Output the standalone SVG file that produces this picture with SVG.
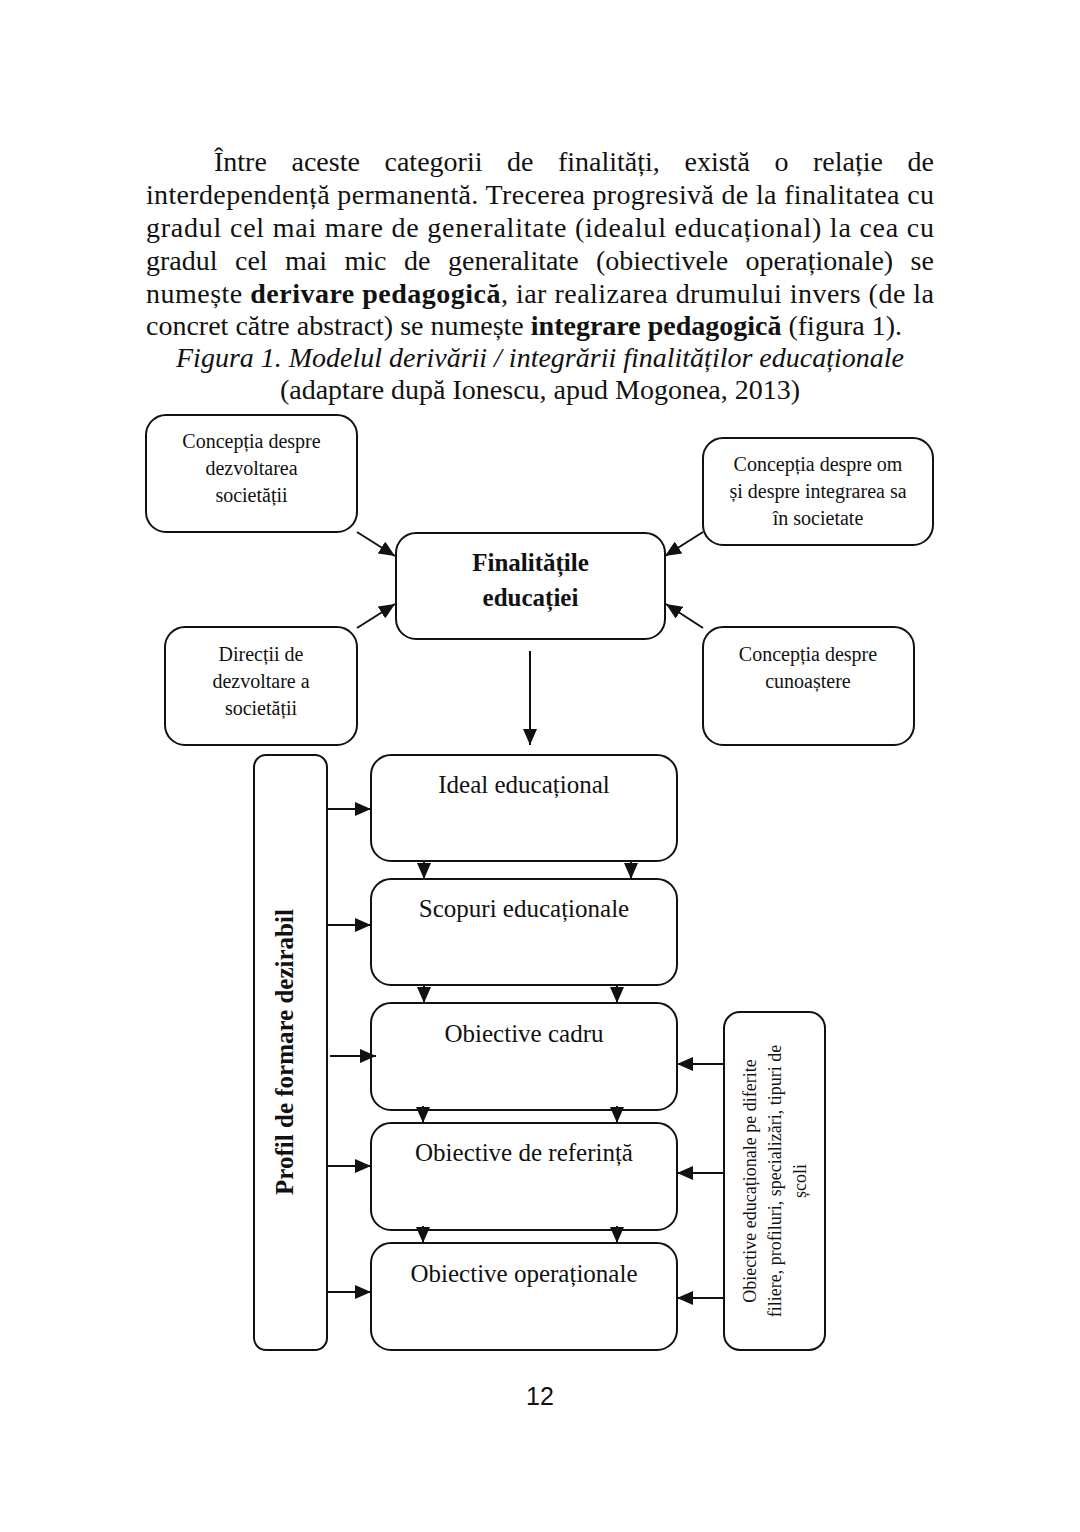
<svg xmlns="http://www.w3.org/2000/svg" width="1080" height="1532" viewBox="0 0 1080 1532">
<defs>
<style>
.p{font-family:"Liberation Serif","Times New Roman",serif;font-size:28px;fill:#111}
.b{font-weight:bold}
.it{font-style:italic}
.box{fill:#fff;stroke:#111;stroke-width:2}
.t20{font-family:"Liberation Serif","Times New Roman",serif;font-size:20px;fill:#111;text-anchor:middle}
.t25{font-family:"Liberation Serif","Times New Roman",serif;font-size:25px;fill:#111;text-anchor:middle}
.t18{font-family:"Liberation Serif","Times New Roman",serif;font-size:18px;fill:#111;text-anchor:middle}
.ln{stroke:#111;stroke-width:2;fill:none}
</style>
<marker id="ah" markerUnits="userSpaceOnUse" markerWidth="16" markerHeight="14" viewBox="0 0 16 14" refX="16" refY="7" orient="auto">
<path d="M0,0 L16,7 L0,14 Z" fill="#111"/>
</marker>
</defs>
<rect width="1080" height="1532" fill="#fff"/>

<g id="paragraph">
<text class="p" y="171"><tspan x="214">Între</tspan><tspan x="291.5">aceste</tspan><tspan x="384.5">categorii</tspan><tspan x="507">de</tspan><tspan x="558">finalități,</tspan><tspan x="684.5">există</tspan><tspan x="774.5">o</tspan><tspan x="813">relație</tspan><tspan x="907.5">de</tspan></text>
<text class="p" x="146" y="204" textLength="788" lengthAdjust="spacing">interdependență permanentă. Trecerea progresivă de la finalitatea cu</text>
<text class="p" x="146" y="237" textLength="788" lengthAdjust="spacing">gradul cel mai mare de generalitate (idealul educațional) la cea cu</text>
<text class="p" y="270"><tspan x="146">gradul</tspan><tspan x="235">cel</tspan><tspan x="285">mai</tspan><tspan x="344.5">mic</tspan><tspan x="404">de</tspan><tspan x="448">generalitate</tspan><tspan x="596">(obiectivele</tspan><tspan x="745.5">operaționale)</tspan><tspan x="910.5">se</tspan></text>
<text class="p" x="146" y="303" textLength="788" lengthAdjust="spacing">numește <tspan class="b">derivare pedagogică</tspan>, iar realizarea drumului invers (de la</text>
<text class="p" x="146" y="335">concret către abstract) se numește <tspan class="b">integrare pedagogică</tspan> (figura 1).</text>
<text class="p it" x="540" y="367" text-anchor="middle">Figura 1. Modelul derivării / integrării finalităților educaționale</text>
<text class="p" x="540" y="399" text-anchor="middle">(adaptare după Ionescu, apud Mogonea, 2013)</text>
</g>

<g id="n-dezvoltarea">
<rect class="box" x="146" y="415" width="211" height="117" rx="20"/>
<text class="t20" x="251.5" y="448">Concepția despre</text>
<text class="t20" x="251.5" y="475">dezvoltarea</text>
<text class="t20" x="251.5" y="502">societății</text>
</g>
<g id="n-om">
<rect class="box" x="703" y="438" width="230" height="107" rx="20"/>
<text class="t20" x="818" y="471">Concepția despre om</text>
<text class="t20" x="818" y="498">și despre integrarea sa</text>
<text class="t20" x="818" y="525">în societate</text>
</g>
<g id="n-finalitati">
<rect class="box" x="396" y="533" width="269" height="106" rx="20"/>
<text class="t25 b" x="530.5" y="571">Finalitățile</text>
<text class="t25 b" x="530.5" y="606">educației</text>
</g>
<g id="n-directii">
<rect class="box" x="165" y="627" width="192" height="118" rx="20"/>
<text class="t20" x="261" y="661">Direcții de</text>
<text class="t20" x="261" y="688">dezvoltare a</text>
<text class="t20" x="261" y="715">societății</text>
</g>
<g id="n-cunoastere">
<rect class="box" x="703" y="627" width="211" height="118" rx="20"/>
<text class="t20" x="808" y="661">Concepția despre</text>
<text class="t20" x="808" y="688">cunoaștere</text>
</g>

<g id="n-profil">
<rect class="box" x="254" y="755" width="73" height="595" rx="12"/>
<text class="t25 b" transform="translate(293,1052) rotate(-90)" x="0" y="0">Profil de formare dezirabil</text>
</g>
<g id="n-ideal">
<rect class="box" x="371" y="755" width="306" height="106" rx="20"/>
<text class="t25" x="524" y="793">Ideal educațional</text>
</g>
<g id="n-scopuri">
<rect class="box" x="371" y="879" width="306" height="106" rx="20"/>
<text class="t25" x="524" y="917">Scopuri educaționale</text>
</g>
<g id="n-cadru">
<rect class="box" x="371" y="1003" width="306" height="107" rx="20"/>
<text class="t25" x="524" y="1042">Obiective cadru</text>
</g>
<g id="n-referinta">
<rect class="box" x="371" y="1123" width="306" height="107" rx="20"/>
<text class="t25" x="524" y="1161">Obiective de referință</text>
</g>
<g id="n-operationale">
<rect class="box" x="371" y="1243" width="306" height="107" rx="20"/>
<text class="t25" x="524" y="1282">Obiective operaționale</text>
</g>
<g id="n-filiere">
<rect class="box" x="724" y="1012" width="101" height="338" rx="16"/>
<g transform="translate(0,1181) rotate(-90)">
<text class="t18" x="0" y="756">Obiective educaționale pe diferite</text>
<text class="t18" x="0" y="781">filiere, profiluri, specializări, tipuri de</text>
<text class="t18" x="0" y="806">școli</text>
</g>
</g>

<g id="connectors">
<line class="ln" x1="357" y1="532" x2="395" y2="556" marker-end="url(#ah)"/>
<line class="ln" x1="357" y1="628" x2="395" y2="604" marker-end="url(#ah)"/>
<line class="ln" x1="703" y1="532" x2="665" y2="556" marker-end="url(#ah)"/>
<line class="ln" x1="703" y1="628" x2="666" y2="604" marker-end="url(#ah)"/>
<line class="ln" x1="530" y1="651" x2="530" y2="745" marker-end="url(#ah)"/>

<line class="ln" x1="424" y1="861" x2="424" y2="879" marker-end="url(#ah)"/>
<line class="ln" x1="631" y1="861" x2="631" y2="879" marker-end="url(#ah)"/>
<line class="ln" x1="424" y1="985" x2="424" y2="1003" marker-end="url(#ah)"/>
<line class="ln" x1="617" y1="985" x2="617" y2="1003" marker-end="url(#ah)"/>
<line class="ln" x1="423" y1="1106" x2="423" y2="1123" marker-end="url(#ah)"/>
<line class="ln" x1="617" y1="1106" x2="617" y2="1123" marker-end="url(#ah)"/>
<line class="ln" x1="423" y1="1226" x2="423" y2="1243" marker-end="url(#ah)"/>
<line class="ln" x1="617" y1="1226" x2="617" y2="1243" marker-end="url(#ah)"/>

<line class="ln" x1="327" y1="809" x2="371" y2="809" marker-end="url(#ah)"/>
<line class="ln" x1="327" y1="925" x2="371" y2="925" marker-end="url(#ah)"/>
<line class="ln" x1="330" y1="1056" x2="376" y2="1056" marker-end="url(#ah)"/>
<line class="ln" x1="327" y1="1166" x2="371" y2="1166" marker-end="url(#ah)"/>
<line class="ln" x1="327" y1="1292" x2="371" y2="1292" marker-end="url(#ah)"/>

<line class="ln" x1="724" y1="1064" x2="677" y2="1064" marker-end="url(#ah)"/>
<line class="ln" x1="724" y1="1173" x2="677" y2="1173" marker-end="url(#ah)"/>
<line class="ln" x1="724" y1="1298" x2="677" y2="1298" marker-end="url(#ah)"/>
</g>

<text x="540" y="1405" text-anchor="middle" style="font-family:'Liberation Sans',Arial,sans-serif;font-size:25px;fill:#111">12</text>
</svg>
